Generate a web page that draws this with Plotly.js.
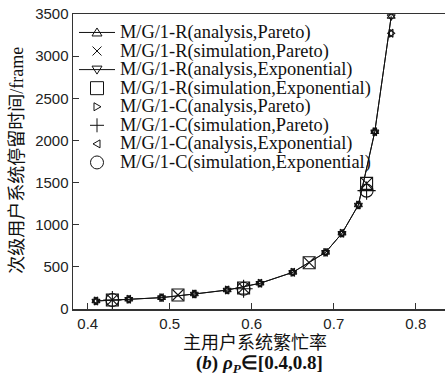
<!DOCTYPE html>
<html>
<head>
<meta charset="utf-8">
<script src="https://cdn.plot.ly/plotly-3.0.1.min.js"></script>
<style>
html,body{margin:0;padding:0;overflow:hidden;background:#fff;}
#chart{width:470px;height:375px;}
</style>
</head>
<body>
<div id="chart"></div>
<script>
// ---- data ----
const xAnalysis = [0.41,0.45,0.49,0.53,0.57,0.61,0.65,0.69,0.71,0.73,0.75,0.77];
const rAnalysisPareto = [95,115,135,178,225,305,435,672,898,1234,2103,3470];
const rAnalysisExp    = [95,115,135,178,225,305,435,672,898,1234,2103,3470];
const cAnalysisPareto = [95,115,135,178,225,305,435,672,898,1234,2103,3271];
const cAnalysisExp    = [95,115,135,178,225,305,435,672,898,1234,2103,3271];
const xSimR = [0.43,0.51,0.59,0.67,0.74];
const rSimPareto = [107,166,250,549,1491];
const rSimExp    = [107,166,250,549,1491];
const xSimC = [0.43,0.59,0.74];
const cSimPareto = [107,240,1404];
const cSimExp    = [107,240,1404];
const legendNames = [
  'M/G/1-R(analysis,Pareto)',
  'M/G/1-R(simulation,Pareto)',
  'M/G/1-R(analysis,Exponential)',
  'M/G/1-R(simulation,Exponential)',
  'M/G/1-C(analysis,Pareto)',
  'M/G/1-C(simulation,Pareto)',
  'M/G/1-C(analysis,Exponential)',
  'M/G/1-C(simulation,Exponential)'
];
const legendKeys = ['tri-up','x','tri-down','square','tri-right','cross','tri-left','circle'];
const xTickVals = [0.4,0.5,0.6,0.7,0.8];
const xTickText = ['0.4','0.5','0.6','0.7','0.8'];
const yTickVals = [0,500,1000,1500,2000,2500,3000,3500];

const K = '#111';
function tr(x, y, name, symbol, size, withLine) {
  return {
    x: x, y: y, name: name, type: 'scatter',
    mode: withLine ? 'lines+markers' : 'markers',
    line: {color: K, width: 1},
    marker: {symbol: symbol, size: size, color: K, line: {color: K, width: 1.1}},
    showlegend: false, cliponaxis: true
  };
}
const data = [
  tr(xAnalysis, rAnalysisPareto, legendNames[0], 'triangle-up-open', 7, true),
  tr(xSimR, rSimPareto, legendNames[1], 'x-thin-open', 11, false),
  tr(xAnalysis, rAnalysisExp, legendNames[2], 'triangle-down-open', 7, true),
  tr(xSimR, rSimExp, legendNames[3], 'square-open', 12, false),
  tr(xAnalysis, cAnalysisPareto, legendNames[4], 'triangle-right-open', 7, false),
  tr(xSimC, cSimPareto, legendNames[5], 'cross-thin-open', 13, false),
  tr(xAnalysis, cAnalysisExp, legendNames[6], 'triangle-left-open', 7, false),
  tr(xSimC, cSimExp, legendNames[7], 'circle-open', 13, false)
];

// plot area in pixels: left 73, top 14, width 392, height 295.5
const L = 73, T = 14, W = 392, H = 295.5;
const px = v => (v - L) / W;
const py = v => (T + H - v) / H;
const P = (x, y) => px(x).toFixed(5) + ',' + py(y).toFixed(5);

const annotations = [];
const shapes = [];
const serif = 'Liberation Serif, Times New Roman, serif';
const keyLine = {color: K, width: 1};
function keyShape(kind, cx, cy) {
  const base = {xref: 'paper', yref: 'paper', line: keyLine};
  const path = d => Object.assign({type: 'path', path: d}, base);
  const seg = (x0, y0, x1, y1) => Object.assign({type: 'line', x0: px(x0), y0: py(y0), x1: px(x1), y1: py(y1)}, base);
  switch (kind) {
    case 'tri-up': return [path('M' + P(cx-5, cy+3.5) + 'L' + P(cx+5, cy+3.5) + 'L' + P(cx, cy-4.5) + 'Z')];
    case 'tri-down': return [path('M' + P(cx-5, cy-3.5) + 'L' + P(cx+5, cy-3.5) + 'L' + P(cx, cy+4.5) + 'Z')];
    case 'tri-right': return [path('M' + P(cx-3, cy-4) + 'L' + P(cx-3, cy+4) + 'L' + P(cx+4, cy) + 'Z')];
    case 'tri-left': return [path('M' + P(cx+3, cy-4) + 'L' + P(cx+3, cy+4) + 'L' + P(cx-4, cy) + 'Z')];
    case 'x': return [seg(cx-4.5, cy-4.5, cx+4.5, cy+4.5), seg(cx-4.5, cy+4.5, cx+4.5, cy-4.5)];
    case 'cross': return [seg(cx-7, cy, cx+7, cy), seg(cx, cy-7, cx, cy+7)];
    case 'square': return [Object.assign({type: 'rect', x0: px(cx-6.5), x1: px(cx+6.5), y0: py(cy+6.5), y1: py(cy-6.5)}, base)];
    case 'circle': return [Object.assign({type: 'circle', x0: px(cx-6.5), x1: px(cx+6.5), y0: py(cy+6.5), y1: py(cy-6.5)}, base)];
  }
  return [];
}
legendNames.forEach((n, i) => {
  const yc = 32.5 + 18.6 * i;
  annotations.push({xref:'paper', yref:'paper', x: px(118), y: py(yc), xanchor:'left', yanchor:'middle',
    text: n, showarrow:false, font:{family: serif, size: 18.4, color: K}});
  keyShape(legendKeys[i], 97, yc).forEach(s => shapes.push(s));
  if (i === 0 || i === 2) {
    shapes.push({type:'line', xref:'paper', yref:'paper', x0: px(79), x1: px(115), y0: py(yc), y1: py(yc),
      line:{color:K, width:1}});
  }
});
// axis titles
annotations.push({xref:'paper', yref:'paper', x: px(255), y: py(342), xanchor:'center', yanchor:'middle',
  text:'主用户系统繁忙率', showarrow:false, font:{family:'Noto Sans CJK SC', size:18, color:K}});
annotations.push({xref:'paper', yref:'paper', x: px(259), y: py(365), xanchor:'center', yanchor:'middle',
  text:'<b>(<i>b</i>) <i>ρ</i><sub><i>P</i></sub>∈[0.4,0.8]</b>', showarrow:false, font:{family: serif, size:19, color:K}});
annotations.push({xref:'paper', yref:'paper', x: px(15), y: py(161), xanchor:'center', yanchor:'middle', textangle:-90,
  text:'次级用户系统停留时间<span style="font-family:Liberation Serif">/frame</span>', showarrow:false,
  font:{family:'Noto Sans CJK SC', size:18, color:K}});

const axisCommon = {
  showline: true, linecolor: '#333', linewidth: 1.5, mirror: true,
  ticks: 'inside', ticklen: 6, tickwidth: 1.2, tickcolor: '#333',
  showgrid: false, zeroline: false,
  tickfont: {family: 'Liberation Sans, Arial, sans-serif', size: 15, color: '#222'}
};
const layout = {
  width: 470, height: 375,
  margin: {l: L, r: 470 - L - W, t: T, b: 375 - T - H},
  paper_bgcolor: '#fff', plot_bgcolor: '#fff',
  showlegend: false,
  xaxis: Object.assign({}, axisCommon, {range: [0.382, 0.86], tickvals: xTickVals, ticktext: xTickText}),
  yaxis: Object.assign({}, axisCommon, {range: [0, 3500], tickvals: yTickVals}),
  annotations: annotations,
  shapes: shapes
};
Plotly.newPlot('chart', data, layout, {staticPlot: true, displayModeBar: false});
</script>
</body>
</html>
